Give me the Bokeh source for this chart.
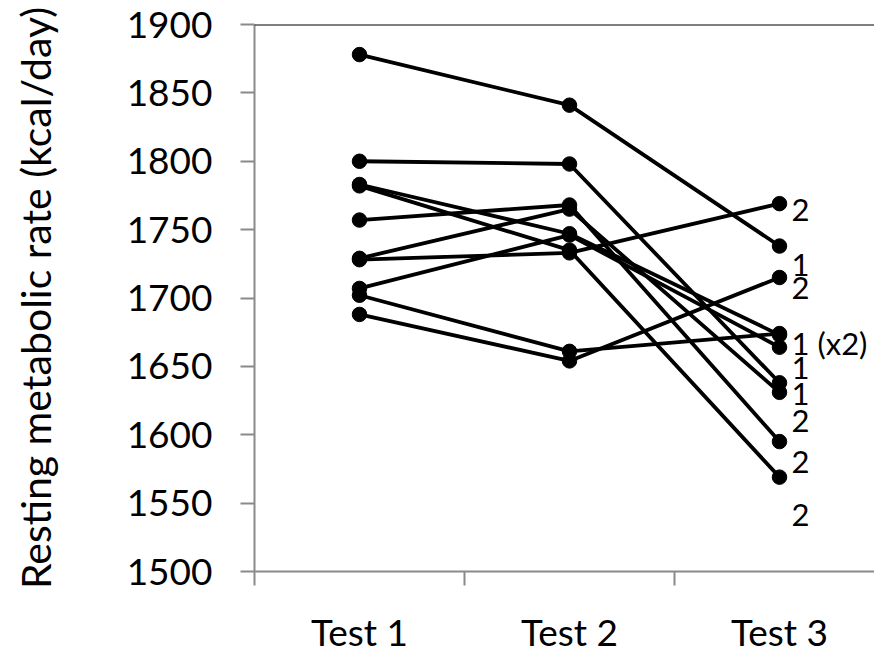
from bokeh.plotting import figure
from bokeh.models import FixedTicker, Span, ColumnDataSource, LabelSet, Range1d
from bokeh.core.properties import value
from bokeh.embed import file_html
from bokeh.resources import INLINE

# ---- data ----
categories = ["Test 1", "Test 2", "Test 3"]
test1 = [1878, 1800, 1783, 1782, 1757, 1729, 1728, 1707, 1702, 1688]
test2 = [1841, 1798, 1747, 1735, 1768, 1765, 1733, 1746, 1661, 1654]
test3 = [1738, 1638, 1673, 1569, 1595, 1631, 1769, 1664, 1674, 1715]

end_texts = ["2", "1", "2", "1 (x2)", "1", "1", "2", "2", "2"]
end_anchor = [1764, 1724, 1707, 1667, 1649, 1630, 1610, 1580, 1541]

y_ticks = [1500, 1550, 1600, 1650, 1700, 1750, 1800, 1850, 1900]

# category positions through a numeric scale (boundary ticks as minor ticks)
centers = [i + 0.5 for i in range(len(categories))]
bounds = [i for i in range(len(categories) + 1)]

FONT = "Lato"
GRAY = "#8a8a8a"

W, H = 874, 656
left, top, bottom = 254, 24, 80
px_per_cat = 210.0

p = figure(width=W, height=H, output_backend="svg", toolbar_location=None,
           x_range=Range1d(0, (W - left) / px_per_cat),
           y_range=Range1d(y_ticks[0], y_ticks[-1]),
           min_border_left=left, min_border_right=0, min_border_top=top,
           min_border_bottom=bottom)
p.outline_line_color = None
p.xgrid.visible = False
p.ygrid.visible = False
p.background_fill_color = "white"
p.border_fill_color = "white"

xs = [centers for _ in test1]
ys = [[a, b, c] for a, b, c in zip(test1, test2, test3)]
p.multi_line(xs=xs, ys=ys, line_color="black", line_width=3.8)

px = [c for _ in test1 for c in centers]
py = [v for a, b, c in zip(test1, test2, test3) for v in (a, b, c)]
p.scatter(x=px, y=py, size=14.5, fill_color="black", line_color="black")

# top border line
p.add_layout(Span(location=y_ticks[-1], dimension="width", line_color="black", line_width=2))

# end labels next to Test 3
lab_src = ColumnDataSource(dict(x=[centers[2]] * len(end_texts), y=end_anchor, t=end_texts))
p.add_layout(LabelSet(x="x", y="y", text="t", source=lab_src, x_offset=12,
                      text_font=value(FONT), text_font_size="31px", text_color="black",
                      text_baseline="middle", text_align="left"))

# y axis
p.yaxis.ticker = FixedTicker(ticks=y_ticks)
p.yaxis.axis_line_color = GRAY
p.yaxis.axis_line_width = 2
p.yaxis.major_tick_line_color = GRAY
p.yaxis.major_tick_line_width = 2
p.yaxis.major_tick_out = 14
p.yaxis.major_tick_in = 0
p.yaxis.minor_tick_line_color = None
p.yaxis.major_label_standoff = 28
p.yaxis.major_label_text_font = FONT
p.yaxis.major_label_text_font_size = "37px"
p.yaxis.major_label_text_color = "black"
p.yaxis.axis_label = "Resting metabolic rate (kcal/day)"
p.yaxis.axis_label_text_font = FONT
p.yaxis.axis_label_text_font_size = "41px"
p.yaxis.axis_label_text_font_style = "normal"
p.yaxis.axis_label_text_color = "black"
p.yaxis.axis_label_standoff = 64

# x axis: names at category centres, boundary ticks as minor ticks
p.xaxis.ticker = FixedTicker(ticks=centers, minor_ticks=bounds)
p.xaxis.major_label_overrides = {c: n for c, n in zip(centers, categories)}
p.xaxis.axis_line_color = GRAY
p.xaxis.axis_line_width = 2
p.xaxis.major_tick_out = 0
p.xaxis.major_tick_in = 0
p.xaxis.major_tick_line_color = None
p.xaxis.minor_tick_line_color = GRAY
p.xaxis.minor_tick_line_width = 2
p.xaxis.minor_tick_out = 14
p.xaxis.minor_tick_in = 0
p.xaxis.major_label_standoff = 23
p.xaxis.major_label_text_font = FONT
p.xaxis.major_label_text_font_size = "37px"
p.xaxis.major_label_text_color = "black"

open("out.html", "w").write(file_html(p, INLINE))
